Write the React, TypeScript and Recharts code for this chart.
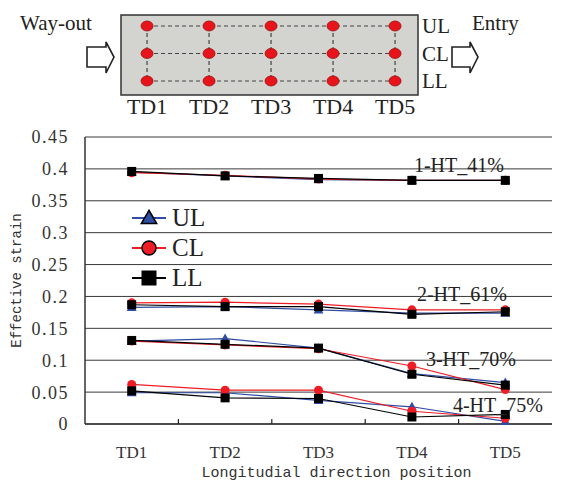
import React from 'react';
import {
  LineChart, Line, XAxis, YAxis, CartesianGrid, Legend, ReferenceDot,
  ScatterChart, Scatter, ReferenceArea,
} from 'recharts';

const positions = ['TD1', 'TD2', 'TD3', 'TD4', 'TD5'];

// 1-HT_41%
const ul41 = [0.395, 0.389, 0.383, 0.382, 0.382];
const cl41 = [0.394, 0.39, 0.384, 0.382, 0.382];
const ll41 = [0.396, 0.389, 0.385, 0.382, 0.382];
// 2-HT_61%
const ul61 = [0.183, 0.184, 0.179, 0.174, 0.174];
const cl61 = [0.19, 0.191, 0.188, 0.179, 0.179];
const ll61 = [0.187, 0.184, 0.184, 0.172, 0.176];
// 3-HT_70%
const ul70 = [0.13, 0.134, 0.119, 0.079, 0.065];
const cl70 = [0.13, 0.124, 0.118, 0.091, 0.054];
const ll70 = [0.131, 0.125, 0.119, 0.078, 0.061];
// 4-HT_75%
const ul75 = [0.049, 0.049, 0.037, 0.027, 0.004];
const cl75 = [0.062, 0.053, 0.053, 0.02, 0.009];
const ll75 = [0.052, 0.041, 0.04, 0.011, 0.015];

const yTicks = [0, 0.05, 0.1, 0.15, 0.2, 0.25, 0.3, 0.35, 0.4, 0.45];
// category centres plus the boundaries between them (tick marks only)
const xTicks = [1, 1.5, 2, 2.5, 3, 3.5, 4, 4.5, 5];

const groups = [
  { id: '41', name: '1-HT_41%', ul: ul41, cl: cl41, ll: ll41 },
  { id: '61', name: '2-HT_61%', ul: ul61, cl: cl61, ll: ll61 },
  { id: '70', name: '3-HT_70%', ul: ul70, cl: cl70, ll: ll70 },
  { id: '75', name: '4-HT_75%', ul: ul75, cl: cl75, ll: ll75 },
];

const series = [
  { key: 'ul', name: 'UL', color: '#2f4da3', shape: 'triangle' },
  { key: 'cl', name: 'CL', color: '#ee1c25', shape: 'circle' },
  { key: 'll', name: 'LL', color: '#000000', shape: 'square' },
];

// where each group name sits (value axis) and how far right of TD4
const groupLabelPos = [
  { y: 0.407, dx: 1 },
  { y: 0.2035, dx: 4 },
  { y: 0.102, dx: 13 },
  { y: 0.03, dx: 40 },
];

const rows = positions.map((pos, i) => {
  const r: Record<string, string | number> = { pos, x: i + 1 };
  groups.forEach((g) => {
    r[`ul_${g.id}`] = g.ul[i];
    r[`cl_${g.id}`] = g.cl[i];
    r[`ll_${g.id}`] = g.ll[i];
  });
  return r;
});

// schematic of the measuring points
const diagramCols = [1, 2, 3, 4, 5];
const diagramRows = [
  { name: 'UL', level: 3 },
  { name: 'CL', level: 2 },
  { name: 'LL', level: 1 },
];
const diagXDomain = [0.58, 5.37];
const diagYDomain = [0.49, 3.4];

const serif = 'Liberation Serif, DejaVu Serif, serif';
const mono = 'Liberation Mono, DejaVu Sans Mono, monospace';
const X_TICK_GAP = 22;

const Marker = ({ shape, cx, cy, size, fill, outline }: any) => {
  const h = size / 2;
  const stroke = outline ? '#000' : 'none';
  if (shape === 'triangle') {
    return (
      <polygon
        points={`${cx},${cy - h * 1.1} ${cx - h * 1.1},${cy + h * 0.8} ${cx + h * 1.1},${cy + h * 0.8}`}
        fill={fill} stroke={stroke} strokeWidth={outline ? 1.5 : 0}
      />
    );
  }
  if (shape === 'circle') {
    return <circle cx={cx} cy={cy} r={h} fill={fill} stroke={stroke} strokeWidth={outline ? 1.5 : 0} />;
  }
  return <rect x={cx - h} y={cy - h} width={size} height={size} fill={fill} stroke={stroke} />;
};

// labels on whole positions, short inward marks on the half positions
const XTick = ({ x, y, payload }: any) => {
  const v = payload.value;
  if (Number.isInteger(v)) {
    return (
      <text x={x} y={y} dy="0.71em" textAnchor="middle" fontFamily={serif} fontSize={17} fill="#333">
        {positions[v - 1]}
      </text>
    );
  }
  const axisY = y - X_TICK_GAP;
  return <line x1={x} x2={x} y1={axisY} y2={axisY - 5} stroke="#222" strokeWidth={1.2} />;
};

const renderLegend = () => (
  <div>
    {series.map((s) => (
      <div key={s.key} style={{ display: 'flex', alignItems: 'center', height: 30 }}>
        <svg width={36} height={30}>
          <line x1={1} x2={35} y1={15} y2={15} stroke={s.color} strokeWidth={2} />
          <Marker shape={s.shape} cx={18} cy={15} size={14} fill={s.color} outline />
        </svg>
        <span style={{ marginLeft: 5, fontFamily: serif, fontSize: 25, color: '#222', lineHeight: '30px' }}>
          {s.name}
        </span>
      </div>
    ))}
  </div>
);

const Diagram = () => (
  <div style={{ position: 'absolute', left: 0, top: 0, width: 561, height: 120 }}>
    <ScatterChart width={561} height={120} margin={{ top: 15, right: 103, bottom: 0, left: 121 }}>
      <XAxis
        type="number" dataKey="x" domain={diagXDomain} ticks={diagramCols} interval={0}
        tickFormatter={(v) => positions[v - 1]} height={25}
        axisLine={false} tickLine={false} tickSize={0} tickMargin={3}
        tick={{ fontFamily: serif, fontSize: 22, fill: '#222' }}
      />
      <YAxis
        type="number" dataKey="y" orientation="right" domain={diagYDomain} ticks={[1, 2, 3]} interval={0}
        tickFormatter={(v) => diagramRows.find((r) => r.level === v)?.name ?? ''}
        width={40} axisLine={false} tickLine={false} tickSize={0} tickMargin={4}
        tick={{ fontFamily: serif, fontSize: 21, fill: '#222', textAnchor: 'start' }}
      />
      <ReferenceArea
        x1={diagXDomain[0]} x2={diagXDomain[1]} y1={diagYDomain[0]} y2={diagYDomain[1]}
        fill="#d3d3cf" fillOpacity={1} stroke="#333" strokeWidth={1.5}
      />
      {diagramCols.map((c) => (
        <Scatter
          key={`col${c}`}
          data={diagramRows.map((r) => ({ x: c, y: r.level }))}
          line={{ stroke: '#444', strokeWidth: 1.2, strokeDasharray: '4 3' }}
          shape={() => <g />}
          isAnimationActive={false}
        />
      ))}
      {diagramRows.map((r) => (
        <Scatter
          key={r.name}
          data={diagramCols.map((c) => ({ x: c, y: r.level }))}
          line={{ stroke: '#444', strokeWidth: 1.2, strokeDasharray: '4 3' }}
          shape={(p: any) => (
            <ellipse cx={p.cx} cy={p.cy} rx={6} ry={5} fill="#e8141b" stroke="#9a1010" strokeWidth={0.8} />
          )}
          isAnimationActive={false}
        />
      ))}
    </ScatterChart>
    <svg width={561} height={120} style={{ position: 'absolute', left: 0, top: 0, pointerEvents: 'none' }}>
      <text x={20} y={30} fontFamily={serif} fontSize={21} fill="#222">Way-out</text>
      <text x={472} y={30} fontFamily={serif} fontSize={21} fill="#222">Entry</text>
      <polygon points="87,47 106,47 106,42 114,57 106,73 106,67 87,67" fill="#fff" stroke="#222" strokeWidth={1.6} />
      <polygon points="452,47 470,47 470,42 478,57 470,73 470,67 452,67" fill="#fff" stroke="#222" strokeWidth={1.6} />
    </svg>
  </div>
);

export default function App() {
  return (
    <div style={{ position: 'relative', width: 561, height: 489, background: '#fff', fontFamily: serif }}>
      <style>{'body{margin:0}'}</style>
      <Diagram />
      <div style={{ position: 'absolute', left: 0, top: 120 }}>
        <LineChart width={561} height={369} data={rows} margin={{ top: 17, right: 9, bottom: 0, left: 0 }}>
          <CartesianGrid vertical={false} stroke="#3a3a3a" />
          <XAxis
            dataKey="x" type="number" domain={[0.5, 5.5]} ticks={xTicks} interval={0} height={65}
            tickLine={false} tickSize={0} tickMargin={X_TICK_GAP}
            axisLine={{ stroke: '#333', strokeWidth: 1.5 }}
            tick={<XTick />}
            label={{
              value: 'Longitudial direction position', position: 'insideBottom', offset: 12, dx: 18,
              style: { fontFamily: mono, fontSize: 15, fill: '#333' },
            }}
          />
          <YAxis
            domain={[0, 0.45]} ticks={yTicks} width={85} interval={0}
            tickLine={false} tickMargin={10} axisLine={{ stroke: '#333', strokeWidth: 1.5 }}
            tick={{ fontFamily: serif, fontSize: 18, fill: '#333', letterSpacing: 1.5 }}
            label={{
              value: 'Effective strain', angle: -90, position: 'insideLeft', offset: 16,
              style: { textAnchor: 'middle', fontFamily: mono, fontSize: 14, fill: '#333' },
            }}
          />
          <YAxis
            yAxisId="r" orientation="right" domain={[0, 0.45]} width={0}
            tick={false} tickLine={false} axisLine={{ stroke: '#888' }}
          />
          {groups.map((g) =>
            series.map((s) => (
              <Line
                key={`${s.key}_${g.id}`}
                dataKey={`${s.key}_${g.id}`}
                type="linear"
                stroke={s.color}
                strokeWidth={1.2}
                legendType="none"
                isAnimationActive={false}
                dot={(p: any) => (
                  <Marker key={`${s.key}_${g.id}_${p.index}`} shape={s.shape} cx={p.cx} cy={p.cy}
                    size={9} fill={s.color} />
                )}
                activeDot={false}
              />
            )),
          )}
          {groups.map((g, i) => (
            <ReferenceDot
              key={g.name} x={4} y={groupLabelPos[i].y} r={1} fill="none" stroke="none"
              label={{
                value: g.name, position: 'right', offset: groupLabelPos[i].dx,
                style: { fontFamily: serif, fontSize: 20, fill: '#222' },
              }}
            />
          ))}
          <Legend
            layout="vertical" align="center" verticalAlign="middle" content={renderLegend}
            wrapperStyle={{ left: 131, top: 83, width: 'auto', height: 'auto' }}
          />
        </LineChart>
      </div>
    </div>
  );
}
